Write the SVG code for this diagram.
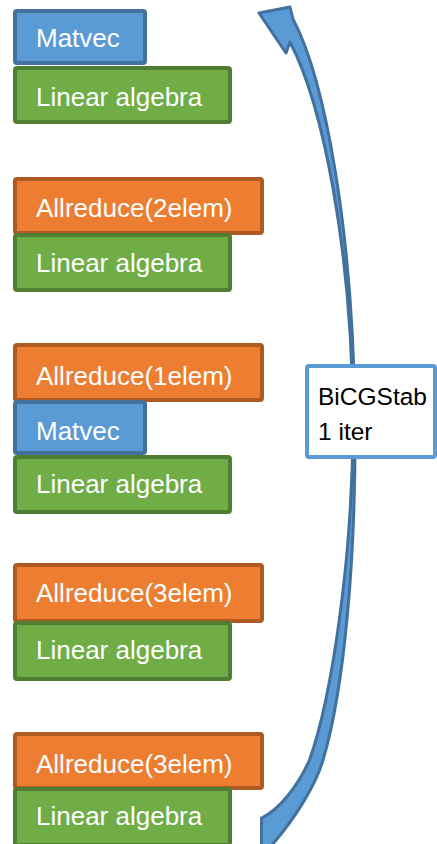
<svg xmlns="http://www.w3.org/2000/svg" width="437" height="844" viewBox="0 0 437 844">
<style>
rect.b{stroke-width:4;}
.blue{fill:#5B9BD5;stroke:#41719C;}
.orange{fill:#ED7D31;stroke:#AE5A21;}
.green{fill:#70AD47;stroke:#507E32;}
text{font-family:"Liberation Sans",Arial,sans-serif;font-size:26px;}
text.w{fill:#FFFFFF;}
text.k{fill:#000000;font-size:24.5px;}
</style>
<rect width="437" height="844" fill="#FFFFFF"/>
<g id="connectors">
<path id="loop-arrow" d="M 259,13 L 290,7 L 293,19 C 325,80 353,230 355,420 C 356,560 344,690 323,760 C 316,785 294,820 271,846 L 261.5,846 L 261.5,818 C 279,810 298,786 309.5,760 C 331,700 353,560 353,420 C 352,250 323,105 290,42 L 286,53 Z" fill="#5B9BD5" stroke="#41719C" stroke-width="3" stroke-linejoin="round"/>
</g>
<g id="bicgstab">
<rect x="307" y="366" width="128" height="91" rx="2" fill="#FFFFFF" stroke="#5B9BD5" stroke-width="4"/>
<text class="k" x="318" y="405">BiCGStab</text>
<text class="k" x="318" y="440">1 iter</text>
</g>
<g id="g1-matvec"><rect class="b blue" x="15" y="11" width="130" height="52" rx="2"/><text class="w" x="36" y="47">Matvec</text></g>
<g id="g1-linalg"><rect class="b green" x="15" y="68" width="215" height="54" rx="2"/><text class="w" x="36" y="106">Linear algebra</text></g>
<g id="g2-allreduce"><rect class="b orange" x="15" y="179" width="247" height="54" rx="2"/><text class="w" x="36" y="217">Allreduce(2elem)</text></g>
<g id="g2-linalg"><rect class="b green" x="15" y="235" width="215" height="55" rx="2"/><text class="w" x="36" y="272">Linear algebra</text></g>
<g id="g3-allreduce"><rect class="b orange" x="15" y="345" width="247" height="55" rx="2"/><text class="w" x="36" y="385">Allreduce(1elem)</text></g>
<g id="g3-matvec"><rect class="b blue" x="15" y="402" width="130" height="51" rx="2"/><text class="w" x="36" y="440">Matvec</text></g>
<g id="g3-linalg"><rect class="b green" x="15" y="457" width="215" height="55" rx="2"/><text class="w" x="36" y="493">Linear algebra</text></g>
<g id="g4-allreduce"><rect class="b orange" x="15" y="565" width="247" height="56" rx="2"/><text class="w" x="36" y="602">Allreduce(3elem)</text></g>
<g id="g4-linalg"><rect class="b green" x="15" y="623" width="215" height="56" rx="2"/><text class="w" x="36" y="659">Linear algebra</text></g>
<g id="g5-allreduce"><rect class="b orange" x="15" y="734" width="247" height="54" rx="2"/><text class="w" x="36" y="773">Allreduce(3elem)</text></g>
<g id="g5-linalg"><rect class="b green" x="15" y="789" width="215" height="56" rx="2"/><text class="w" x="36" y="825">Linear algebra</text></g>
</svg>
